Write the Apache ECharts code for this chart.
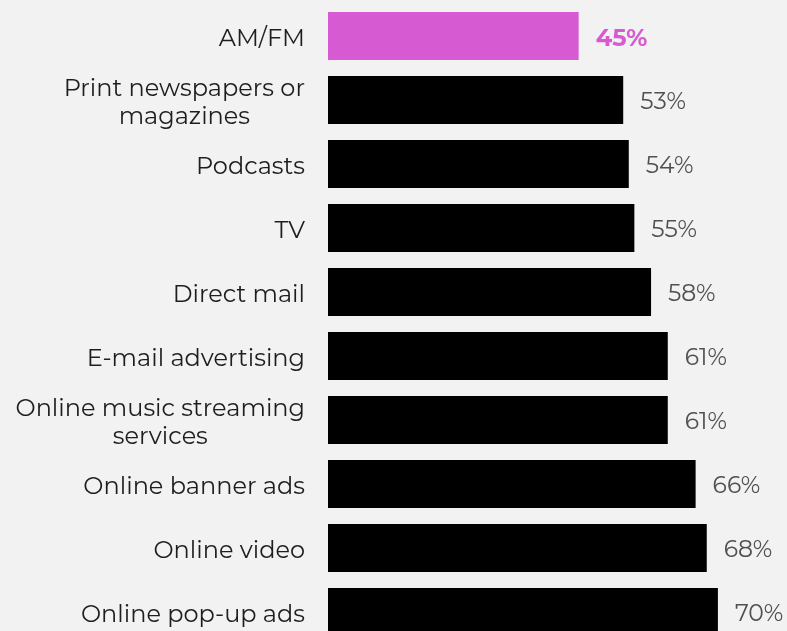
<!DOCTYPE html>
<html><head><meta charset="utf-8">
<script src="https://cdn.jsdelivr.net/npm/echarts@6/dist/echarts.min.js"></script>
<style>html,body{margin:0;padding:0;background:#f2f2f2}#c{width:787px;height:631px}</style>
</head><body><div id="c"></div>
<script>
const categories = ["AM/FM","Print newspapers or\nmagazines","Podcasts","TV","Direct mail","E-mail advertising","Online music streaming\nservices","Online banner ads","Online video","Online pop-up ads"];
const values = [45,53,54,55,58,61,61,66,68,70];
const highlight = "AM/FM";
const chart = echarts.init(document.getElementById('c'));
const font = "Montserrat, 'Open Sans', sans-serif";
chart.setOption({
  backgroundColor:'#f2f2f2',
  animation:false,
  grid:{left:328, top:4, width:445.6, height:640, containLabel:false, outerBoundsMode:'none'},
  xAxis:{type:'value', min:0, max:80, show:false},
  yAxis:{type:'category', data:categories, inverse:true,
    axisLine:{show:false}, axisTick:{show:false}, splitLine:{show:false},
    axisLabel:{margin:23, fontSize:24, color:'#1e1e1e', fontFamily:font, lineHeight:28, align:'right',
      padding:[5,0,0,0],
      formatter: v => v.indexOf('\n')>=0 ? v.split('\n').map(s=>'{m|'+s+'}').join('\n') : v,
      rich:{m:{align:'center', fontSize:24, lineHeight:28, color:'#1e1e1e', fontFamily:font}}}},
  series:[{type:'bar', barWidth:'75%',
    data: values.map((v,i)=>{
      const hi = categories[i]===highlight;
      return {value:v,
        itemStyle:{color: hi?'#d65bd3':'#000'},
        label: hi?{color:'#d65bd3', fontWeight:'bold', fontSize:24}:{}};
    }),
    label:{show:true, position:'right', distance:17, offset:[0,2.5], formatter:'{c}%', fontSize:23.5, color:'#505050', fontFamily:font}
  }]
});
</script></body></html>
